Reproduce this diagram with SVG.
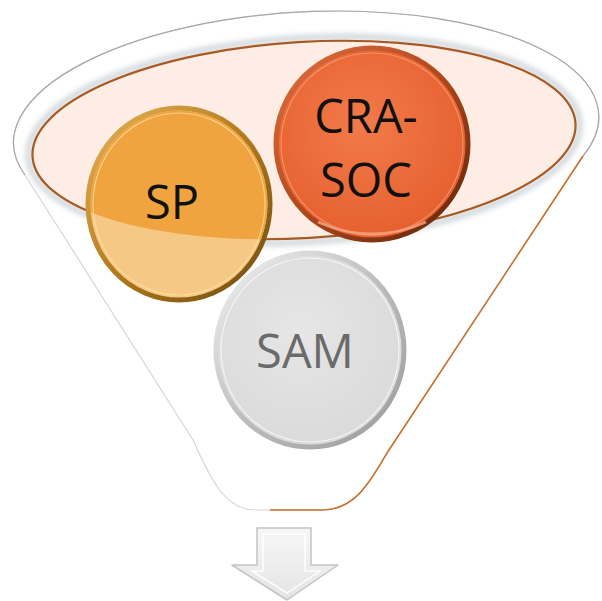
<svg xmlns="http://www.w3.org/2000/svg" width="602" height="601" viewBox="0 0 602 601">
<defs>
  <style>
    .lbl { font-family: "Open Sans", "Liberation Sans", sans-serif; font-size: 47px; text-anchor: middle; }
  </style>
  <clipPath id="inEll">
    <ellipse cx="304" cy="140" rx="272" ry="98" transform="rotate(-3.5 304 140)"/>
  </clipPath>
  <linearGradient id="spRim" x1="0" y1="0" x2="1" y2="1">
    <stop offset="0" stop-color="#E8B45A"/>
    <stop offset="0.5" stop-color="#B27A1C"/>
    <stop offset="1" stop-color="#6E4A10"/>
  </linearGradient>
  <linearGradient id="craRim" x1="0" y1="0" x2="1" y2="1">
    <stop offset="0" stop-color="#E07040"/>
    <stop offset="0.5" stop-color="#B0481C"/>
    <stop offset="1" stop-color="#5E2208"/>
  </linearGradient>
  <linearGradient id="samRim" x1="0" y1="0" x2="1" y2="1">
    <stop offset="0" stop-color="#F4F4F4"/>
    <stop offset="0.5" stop-color="#BDBDBD"/>
    <stop offset="1" stop-color="#9A9A9A"/>
  </linearGradient>
  <radialGradient id="craFill" cx="0.45" cy="0.4" r="0.6">
    <stop offset="0" stop-color="#F27A4A"/>
    <stop offset="1" stop-color="#E6602F"/>
  </radialGradient>
  <radialGradient id="samFill" cx="0.45" cy="0.4" r="0.6">
    <stop offset="0" stop-color="#E6E6E6"/>
    <stop offset="1" stop-color="#DADADA"/>
  </radialGradient>
  <linearGradient id="arrowFill" x1="0" y1="0" x2="0" y2="1">
    <stop offset="0" stop-color="#F7F7F7"/>
    <stop offset="1" stop-color="#E4E4E4"/>
  </linearGradient>
  <filter id="soft" x="-10%" y="-10%" width="120%" height="120%">
    <feGaussianBlur stdDeviation="2.5"/>
  </filter>
</defs>

<g id="funnel">
  <path d="M 25,175 A 293 118 -3 1 1 583,156 L 387,453 C 370,482 355,510 322,510 L 255,510 C 225,510 210,478 193,440 Z" fill="#FFFFFF" stroke="#D6D6D6" stroke-width="1.2"/>
  <path d="M 583,156 L 387,453 C 370,482 355,510 322,510 L 270,510" fill="none" stroke="#C8702E" stroke-width="1.6"/>
  <path d="M 25,175 A 293 118 -3 1 1 583,156" fill="none" stroke="#9C9C9C" stroke-width="1.2" opacity="0.8"/>
</g>

<g id="top-ellipse">
  <ellipse cx="304" cy="140" rx="276" ry="102" transform="rotate(-3.5 304 140)" fill="none" stroke="#C4CCD2" stroke-width="7" opacity="0.7" filter="url(#soft)"/>
  <ellipse cx="304" cy="140" rx="272" ry="98" transform="rotate(-3.5 304 140)" fill="#FDEDE4" stroke="#A85A22" stroke-width="2.2"/>
</g>

<g id="node-sam">
  <ellipse cx="310" cy="350" rx="94" ry="97" fill="url(#samFill)" stroke="url(#samRim)" stroke-width="5"/>
  <ellipse cx="310" cy="350" rx="89" ry="92" fill="none" stroke="#FFFFFF" stroke-width="1.2" opacity="0.7"/>
  <text class="lbl" x="305" y="368" fill="#6A6A6A">SAM</text>
</g>

<g id="node-sp">
  <ellipse cx="179" cy="204" rx="91" ry="96" fill="#F5C985" stroke="url(#spRim)" stroke-width="5"/>
  <ellipse cx="179" cy="204" rx="88.5" ry="93.5" fill="#EFA440" clip-path="url(#inEll)"/>
  <ellipse cx="179" cy="204" rx="86" ry="91" fill="none" stroke="#FFE2A8" stroke-width="1.2" opacity="0.7"/>
  <text class="lbl" x="172" y="219" fill="#111111">SP</text>
</g>

<g id="node-crasoc">
  <ellipse cx="372" cy="144" rx="96" ry="96" fill="url(#craFill)" stroke="url(#craRim)" stroke-width="5"/>
  <ellipse cx="372" cy="144" rx="91" ry="91" fill="none" stroke="#F9A27C" stroke-width="1.2" opacity="0.7"/>
  <path d="M 318,222 Q 372,246 426,222" fill="none" stroke="#F6A483" stroke-width="3" opacity="0.8"/>
  <text class="lbl" x="366" y="133" fill="#111111">CRA-</text>
  <text class="lbl" x="366" y="197" fill="#111111">SOC</text>
</g>

<g id="connectors">
  <path d="M 257,528 L 311,528 L 311,565 L 338,565 L 287,600 L 232,565 L 257,565 Z" fill="url(#arrowFill)" stroke="#C4C4C4" stroke-width="1.5" stroke-linejoin="round"/>
  <path d="M 263,534 L 305,534 L 305,571 L 320,571 L 287,593 L 252,571 L 263,571 Z" fill="none" stroke="#FFFFFF" stroke-width="1.5" opacity="0.9"/>
</g>
</svg>
